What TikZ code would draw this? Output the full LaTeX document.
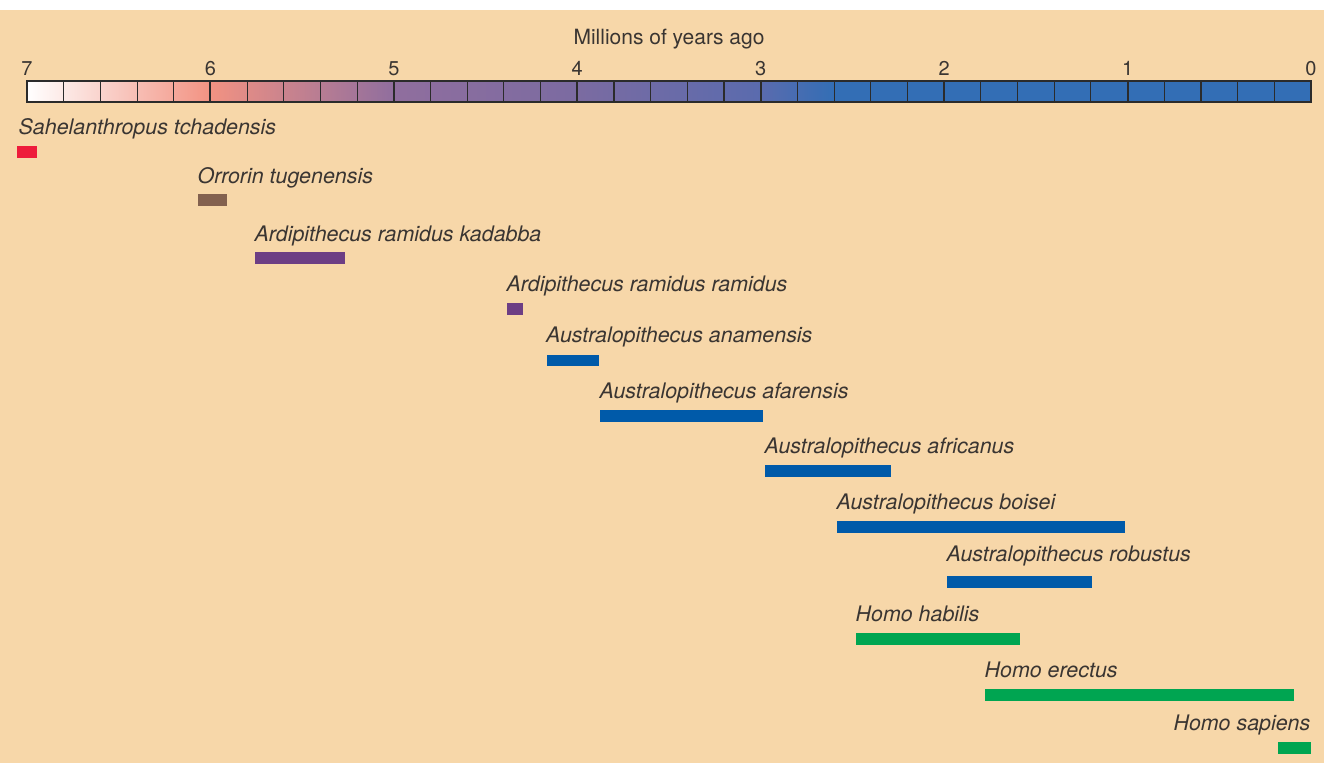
\documentclass[tikz,border=0pt]{standalone}
\usepackage{fontspec}
\setmainfont{TeX Gyre Heros}
\definecolor{bgc}{HTML}{F7D7A9}
\definecolor{txtc}{HTML}{3A3532}
\definecolor{gridc}{HTML}{2B2B2B}
\definecolor{cSix}{HTML}{F29282}
\definecolor{cFive}{HTML}{906E9E}
\definecolor{cFour}{HTML}{7B6BA1}
\definecolor{cThree}{HTML}{5A6BAE}
\definecolor{cBlue}{HTML}{336EB5}
\definecolor{redbar}{HTML}{EE1C3B}
\definecolor{brownbar}{HTML}{83614F}
\definecolor{purplebar}{HTML}{6D3E84}
\definecolor{bluebar}{HTML}{005AA9}
\definecolor{greenbar}{HTML}{00A551}
\begin{document}
\begin{tikzpicture}[x=1pt,y=-1pt,
  lbl/.style={inner sep=0pt, anchor=base west, font=\fontsize{21.4}{21.4}\selectfont\itshape, text=txtc},
  num/.style={inner sep=0pt, anchor=base, font=\fontsize{20}{20}\selectfont, text=txtc},
  hdr/.style={inner sep=0pt, anchor=base, font=\fontsize{21}{21}\selectfont, text=txtc},
  minorline/.style={draw=gridc, line width=1.1pt},
  majorline/.style={draw=gridc, line width=1.9pt},
  outerline/.style={draw=gridc, line width=1.4pt},
]
\useasboundingbox (0,0) rectangle (1324,763);
\fill[white] (0,0) rectangle (1324,763);
\fill[bgc] (0,9.5) rectangle (1324,763);

% title
\node[hdr] (title) at (669,44.5) {Millions of years ago};

% scale bar shading
\shade[left color=white, right color=cSix] (27,81) rectangle (210.43,102);
\shade[left color=cSix, right color=cFive] (210.43,81) rectangle (393.86,102);
\shade[left color=cFive, right color=cFour] (393.86,81) rectangle (577.29,102);
\shade[left color=cFour, right color=cThree] (577.29,81) rectangle (760.71,102);
\shade[left color=cThree, right color=cBlue] (760.71,81) rectangle (834.08,102);
\fill[cBlue] (834.08,81) rectangle (1311,102);
\foreach \i in {1,...,34}{
  \pgfmathsetmacro\xx{27+\i*36.6857}
  \pgfmathtruncatemacro\mm{mod(\i,5)}
  \ifnum\mm=0
    \draw[majorline] (\xx,81) -- (\xx,102);
  \else
    \draw[minorline] (\xx,81) -- (\xx,102);
  \fi
}
\draw[outerline] (27,81) rectangle (1311,102);
\coordinate (scaleleft) at (27,81);
\coordinate (scaleright) at (1311,81);

% numbers
\foreach \n in {0,...,7}{
  \node[num] (n\n) at ({27+(7-\n)*183.4286},75) {\n};
}

% species
\node[lbl] (l1) at (18.5,134) {Sahelanthropus tchadensis};
\fill[redbar] (16.7,145.7) rectangle (36.5,157.7);

\node[lbl] (l2) at (197.5,183.3) {Orrorin tugenensis};
\fill[brownbar] (198.3,194.3) rectangle (227.3,206);

\node[lbl] (l3) at (254.5,241) {Ardipithecus ramidus kadabba};
\fill[purplebar] (255,252.3) rectangle (345,264.3);

\node[lbl] (l4) at (506.5,291.7) {Ardipithecus ramidus ramidus};
\fill[purplebar] (507.3,303.3) rectangle (523,315);

\node[lbl] (l5) at (546,342.7) {Australopithecus anamensis};
\fill[bluebar] (546.7,354.7) rectangle (598.7,366.3);

\node[lbl] (l6) at (599.5,398.3) {Australopithecus afarensis};
\fill[bluebar] (600,410) rectangle (762.7,421.7);

\node[lbl] (l7) at (764.5,453.3) {Australopithecus africanus};
\fill[bluebar] (765,465.3) rectangle (891,477.3);

\node[lbl] (l8) at (836.5,509) {Australopithecus boisei};
\fill[bluebar] (837.3,520.7) rectangle (1125,532.7);

\node[lbl] (l9) at (946.5,561) {Australopithecus robustus};
\fill[bluebar] (947.3,576) rectangle (1092.3,588);

\node[lbl] (l10) at (855.5,621) {Homo habilis};
\fill[greenbar] (856,633) rectangle (1020,644.7);

\node[lbl] (l11) at (984.5,677.7) {Homo erectus};
\fill[greenbar] (985,689.3) rectangle (1294.3,701);

\node[lbl, anchor=base east] (l12) at (1310.5,730) {Homo sapiens};
\fill[greenbar] (1278.3,742) rectangle (1311,753.7);
\end{tikzpicture}
\end{document}
